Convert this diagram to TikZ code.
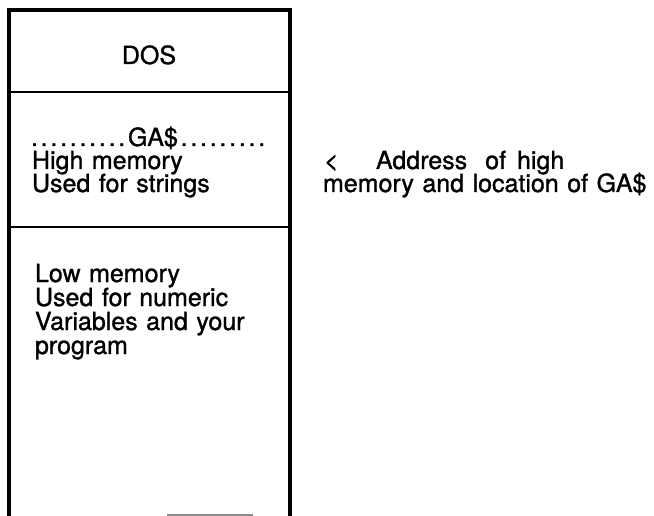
\documentclass[tikz,border=0pt]{standalone}
\usepackage{fontspec}
\setmainfont{TeX Gyre Heros}[FakeBold=1.2]
% slightly wider word spaces than the font's own
\newcommand\widewords{\spaceskip=8.5pt plus 1pt minus 1pt\relax}
\tikzset{
  frame/.style={line width=3.2pt, line cap=butt, line join=miter},
  divider/.style={line width=2.8pt},
  txt/.style={inner sep=0pt, outer sep=0pt, anchor=base west,
    font=\fontsize{25}{25}\selectfont\widewords},
  scanmark/.style={line width=1.2pt, draw=black!45}
}
% a dot followed by a little extra space, for the dotted GA$ line
\newcommand\spaceddot{.\kern2.75pt}
\begin{document}
\begin{tikzpicture}[x=1pt, y=-1pt]
  \useasboundingbox (0,0) rectangle (654,516);
  % memory map column, open at the bottom
  \draw[frame] (9,516) -- (9,10) -- (290,10) -- (290,516);
  \draw[divider] (9,92) -- (290,92);
  \draw[divider] (9,227) -- (290,227);
  \draw[scanmark] (167,515) -- (253,515);

  % DOS block
  \node[txt, anchor=base] (dos) at (149,64) {DOS};

  % string area
  \node[txt] (ga) at (31,146) {\spaceddot\spaceddot\spaceddot\spaceddot\spaceddot\spaceddot\spaceddot\spaceddot\spaceddot\spaceddot GA\$\kern2.75pt\spaceddot\spaceddot\spaceddot\spaceddot\spaceddot\spaceddot\spaceddot\spaceddot.};
  \node[txt] (high1) at (32,169) {High memory};
  \node[txt] (high2) at (32,192) {Used for strings};

  % note beside the string area
  \node[txt] (lt) at (324,169) {<};
  \node[txt] (note1) at (376,169) {Address\hspace{18pt}of\hspace{11pt}high};
  \node[txt] (note2) at (323,192) {memory and location of GA\$};

  % numeric and program area
  \node[txt] (low1) at (35,282) {Low memory};
  \node[txt] (low2) at (35,306) {Used for numeric};
  \node[txt] (low3) at (35,330) {Variables and your};
  \node[txt] (low4) at (35,354) {program};
\end{tikzpicture}
\end{document}
